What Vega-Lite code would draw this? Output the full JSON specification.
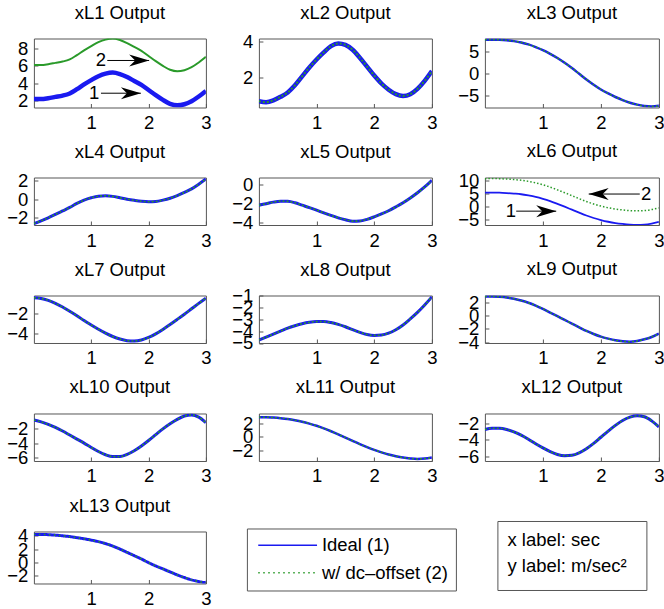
{
"$schema": "https://vega.github.io/schema/vega-lite/v6.json",
"background": "white",
"padding": {"left": 5.9, "top": 2.5, "right": 2, "bottom": 2},
"config": {
  "font": "Liberation Sans",
  "view": {"stroke": "#555555", "strokeWidth": 1},
  "axis": {"domain": false, "grid": false, "labelFontSize": 18.5, "labelFont": "Liberation Sans", "labelColor": "black", "tickColor": "#555555", "tickSize": -4, "labelPadding": 10, "labelFlush": false, "labelOverlap": false, "labelBound": false},
  "title": {"fontSize": 18.5, "fontWeight": "normal", "font": "Liberation Sans", "color": "black", "baseline": "alphabetic", "offset": 16.5, "frame": "group", "anchor": "middle"}
},
"datasets": {
"d": [
{"p":"xL1","t":0,"a":2.15,"b":6.1},{"p":"xL1","t":0.125,"a":2.15,"b":6.1},{"p":"xL1","t":0.25,"a":2.25,"b":6.2},{"p":"xL1","t":0.375,"a":2.4,"b":6.35},{"p":"xL1","t":0.5,"a":2.55,"b":6.5},{"p":"xL1","t":0.625,"a":2.8,"b":6.75},{"p":"xL1","t":0.75,"a":3.3,"b":7.25},{"p":"xL1","t":0.875,"a":3.85,"b":7.8},{"p":"xL1","t":1,"a":4.35,"b":8.3},{"p":"xL1","t":1.125,"a":4.8,"b":8.75},{"p":"xL1","t":1.25,"a":5.1,"b":9.05},{"p":"xL1","t":1.375,"a":5.22,"b":9.17},{"p":"xL1","t":1.5,"a":5.05,"b":9.0},{"p":"xL1","t":1.625,"a":4.7,"b":8.65},{"p":"xL1","t":1.75,"a":4.25,"b":8.2},{"p":"xL1","t":1.875,"a":3.8,"b":7.75},{"p":"xL1","t":2,"a":3.2,"b":7.15},{"p":"xL1","t":2.125,"a":2.6,"b":6.55},{"p":"xL1","t":2.25,"a":2.05,"b":6.0},{"p":"xL1","t":2.375,"a":1.6,"b":5.55},{"p":"xL1","t":2.5,"a":1.42,"b":5.37},{"p":"xL1","t":2.625,"a":1.55,"b":5.5},{"p":"xL1","t":2.75,"a":1.9,"b":5.85},{"p":"xL1","t":2.875,"a":2.45,"b":6.4},{"p":"xL1","t":3,"a":3.1,"b":7.05},
{"p":"xL2","t":0,"a":0.65,"b":0.65},{"p":"xL2","t":0.125,"a":0.6,"b":0.6},{"p":"xL2","t":0.25,"a":0.7,"b":0.7},{"p":"xL2","t":0.375,"a":0.9,"b":0.9},{"p":"xL2","t":0.5,"a":1.15,"b":1.15},{"p":"xL2","t":0.625,"a":1.55,"b":1.55},{"p":"xL2","t":0.75,"a":2.05,"b":2.05},{"p":"xL2","t":0.875,"a":2.55,"b":2.55},{"p":"xL2","t":1,"a":3.0,"b":3.0},{"p":"xL2","t":1.125,"a":3.4,"b":3.4},{"p":"xL2","t":1.25,"a":3.75,"b":3.75},{"p":"xL2","t":1.375,"a":3.9,"b":3.9},{"p":"xL2","t":1.5,"a":3.82,"b":3.82},{"p":"xL2","t":1.625,"a":3.55,"b":3.55},{"p":"xL2","t":1.75,"a":3.1,"b":3.1},{"p":"xL2","t":1.875,"a":2.6,"b":2.6},{"p":"xL2","t":2,"a":2.1,"b":2.1},{"p":"xL2","t":2.125,"a":1.65,"b":1.65},{"p":"xL2","t":2.25,"a":1.3,"b":1.3},{"p":"xL2","t":2.375,"a":1.05,"b":1.05},{"p":"xL2","t":2.5,"a":0.95,"b":0.95},{"p":"xL2","t":2.625,"a":1.05,"b":1.05},{"p":"xL2","t":2.75,"a":1.35,"b":1.35},{"p":"xL2","t":2.875,"a":1.8,"b":1.8},{"p":"xL2","t":3,"a":2.35,"b":2.35},
{"p":"xL3","t":0,"a":7.65,"b":7.65},{"p":"xL3","t":0.125,"a":7.68,"b":7.68},{"p":"xL3","t":0.25,"a":7.65,"b":7.65},{"p":"xL3","t":0.375,"a":7.55,"b":7.55},{"p":"xL3","t":0.5,"a":7.35,"b":7.35},{"p":"xL3","t":0.625,"a":7.05,"b":7.05},{"p":"xL3","t":0.75,"a":6.6,"b":6.6},{"p":"xL3","t":0.875,"a":6.0,"b":6.0},{"p":"xL3","t":1,"a":5.3,"b":5.3},{"p":"xL3","t":1.125,"a":4.45,"b":4.45},{"p":"xL3","t":1.25,"a":3.5,"b":3.5},{"p":"xL3","t":1.375,"a":2.4,"b":2.4},{"p":"xL3","t":1.5,"a":1.2,"b":1.2},{"p":"xL3","t":1.625,"a":-0.1,"b":-0.1},{"p":"xL3","t":1.75,"a":-1.4,"b":-1.4},{"p":"xL3","t":1.875,"a":-2.6,"b":-2.6},{"p":"xL3","t":2,"a":-3.7,"b":-3.7},{"p":"xL3","t":2.125,"a":-4.6,"b":-4.6},{"p":"xL3","t":2.25,"a":-5.4,"b":-5.4},{"p":"xL3","t":2.375,"a":-6.1,"b":-6.1},{"p":"xL3","t":2.5,"a":-6.7,"b":-6.7},{"p":"xL3","t":2.625,"a":-7.15,"b":-7.15},{"p":"xL3","t":2.75,"a":-7.45,"b":-7.45},{"p":"xL3","t":2.875,"a":-7.55,"b":-7.55},{"p":"xL3","t":3,"a":-7.4,"b":-7.4},
{"p":"xL4","t":0,"a":-2.6,"b":-2.6},{"p":"xL4","t":0.125,"a":-2.3,"b":-2.3},{"p":"xL4","t":0.25,"a":-1.98,"b":-1.98},{"p":"xL4","t":0.375,"a":-1.62,"b":-1.62},{"p":"xL4","t":0.5,"a":-1.25,"b":-1.25},{"p":"xL4","t":0.625,"a":-0.88,"b":-0.88},{"p":"xL4","t":0.75,"a":-0.45,"b":-0.45},{"p":"xL4","t":0.875,"a":-0.1,"b":-0.1},{"p":"xL4","t":1,"a":0.15,"b":0.15},{"p":"xL4","t":1.125,"a":0.32,"b":0.32},{"p":"xL4","t":1.25,"a":0.36,"b":0.36},{"p":"xL4","t":1.375,"a":0.3,"b":0.3},{"p":"xL4","t":1.5,"a":0.15,"b":0.15},{"p":"xL4","t":1.625,"a":0.0,"b":0.0},{"p":"xL4","t":1.75,"a":-0.12,"b":-0.12},{"p":"xL4","t":1.875,"a":-0.22,"b":-0.22},{"p":"xL4","t":2,"a":-0.27,"b":-0.27},{"p":"xL4","t":2.125,"a":-0.24,"b":-0.24},{"p":"xL4","t":2.25,"a":-0.1,"b":-0.1},{"p":"xL4","t":2.375,"a":0.1,"b":0.1},{"p":"xL4","t":2.5,"a":0.38,"b":0.38},{"p":"xL4","t":2.625,"a":0.72,"b":0.72},{"p":"xL4","t":2.75,"a":1.1,"b":1.1},{"p":"xL4","t":2.875,"a":1.6,"b":1.6},{"p":"xL4","t":3,"a":2.15,"b":2.15},
{"p":"xL5","t":0,"a":-2.2,"b":-2.2},{"p":"xL5","t":0.125,"a":-2.05,"b":-2.05},{"p":"xL5","t":0.25,"a":-1.88,"b":-1.88},{"p":"xL5","t":0.375,"a":-1.78,"b":-1.78},{"p":"xL5","t":0.5,"a":-1.8,"b":-1.8},{"p":"xL5","t":0.625,"a":-1.95,"b":-1.95},{"p":"xL5","t":0.75,"a":-2.2,"b":-2.2},{"p":"xL5","t":0.875,"a":-2.45,"b":-2.45},{"p":"xL5","t":1,"a":-2.72,"b":-2.72},{"p":"xL5","t":1.125,"a":-3.0,"b":-3.0},{"p":"xL5","t":1.25,"a":-3.27,"b":-3.27},{"p":"xL5","t":1.375,"a":-3.52,"b":-3.52},{"p":"xL5","t":1.5,"a":-3.72,"b":-3.72},{"p":"xL5","t":1.625,"a":-3.87,"b":-3.87},{"p":"xL5","t":1.75,"a":-3.85,"b":-3.85},{"p":"xL5","t":1.875,"a":-3.68,"b":-3.68},{"p":"xL5","t":2,"a":-3.42,"b":-3.42},{"p":"xL5","t":2.125,"a":-3.12,"b":-3.12},{"p":"xL5","t":2.25,"a":-2.78,"b":-2.78},{"p":"xL5","t":2.375,"a":-2.38,"b":-2.38},{"p":"xL5","t":2.5,"a":-1.95,"b":-1.95},{"p":"xL5","t":2.625,"a":-1.45,"b":-1.45},{"p":"xL5","t":2.75,"a":-0.9,"b":-0.9},{"p":"xL5","t":2.875,"a":-0.3,"b":-0.3},{"p":"xL5","t":3,"a":0.4,"b":0.4},
{"p":"xL6","t":0,"a":5.45,"b":10.85},{"p":"xL6","t":0.125,"a":5.5,"b":10.9},{"p":"xL6","t":0.25,"a":5.45,"b":10.85},{"p":"xL6","t":0.375,"a":5.3,"b":10.7},{"p":"xL6","t":0.5,"a":5.1,"b":10.5},{"p":"xL6","t":0.625,"a":4.85,"b":10.25},{"p":"xL6","t":0.75,"a":4.4,"b":9.8},{"p":"xL6","t":0.875,"a":3.85,"b":9.25},{"p":"xL6","t":1,"a":3.1,"b":8.5},{"p":"xL6","t":1.125,"a":2.2,"b":7.6},{"p":"xL6","t":1.25,"a":1.15,"b":6.55},{"p":"xL6","t":1.375,"a":0.05,"b":5.45},{"p":"xL6","t":1.5,"a":-1.1,"b":4.3},{"p":"xL6","t":1.625,"a":-2.25,"b":3.15},{"p":"xL6","t":1.75,"a":-3.35,"b":2.05},{"p":"xL6","t":1.875,"a":-4.3,"b":1.1},{"p":"xL6","t":2,"a":-5.1,"b":0.3},{"p":"xL6","t":2.125,"a":-5.75,"b":-0.35},{"p":"xL6","t":2.25,"a":-6.25,"b":-0.85},{"p":"xL6","t":2.375,"a":-6.6,"b":-1.2},{"p":"xL6","t":2.5,"a":-6.85,"b":-1.45},{"p":"xL6","t":2.625,"a":-6.95,"b":-1.55},{"p":"xL6","t":2.75,"a":-6.85,"b":-1.45},{"p":"xL6","t":2.875,"a":-6.45,"b":-1.05},{"p":"xL6","t":3,"a":-5.8,"b":-0.4},
{"p":"xL7","t":0,"a":-0.38,"b":-0.38},{"p":"xL7","t":0.125,"a":-0.45,"b":-0.45},{"p":"xL7","t":0.25,"a":-0.65,"b":-0.65},{"p":"xL7","t":0.375,"a":-0.95,"b":-0.95},{"p":"xL7","t":0.5,"a":-1.32,"b":-1.32},{"p":"xL7","t":0.625,"a":-1.75,"b":-1.75},{"p":"xL7","t":0.75,"a":-2.2,"b":-2.2},{"p":"xL7","t":0.875,"a":-2.7,"b":-2.7},{"p":"xL7","t":1,"a":-3.15,"b":-3.15},{"p":"xL7","t":1.125,"a":-3.58,"b":-3.58},{"p":"xL7","t":1.25,"a":-3.98,"b":-3.98},{"p":"xL7","t":1.375,"a":-4.32,"b":-4.32},{"p":"xL7","t":1.5,"a":-4.58,"b":-4.58},{"p":"xL7","t":1.625,"a":-4.74,"b":-4.74},{"p":"xL7","t":1.75,"a":-4.78,"b":-4.78},{"p":"xL7","t":1.875,"a":-4.68,"b":-4.68},{"p":"xL7","t":2,"a":-4.42,"b":-4.42},{"p":"xL7","t":2.125,"a":-4.05,"b":-4.05},{"p":"xL7","t":2.25,"a":-3.6,"b":-3.6},{"p":"xL7","t":2.375,"a":-3.1,"b":-3.1},{"p":"xL7","t":2.5,"a":-2.58,"b":-2.58},{"p":"xL7","t":2.625,"a":-2.05,"b":-2.05},{"p":"xL7","t":2.75,"a":-1.5,"b":-1.5},{"p":"xL7","t":2.875,"a":-0.95,"b":-0.95},{"p":"xL7","t":3,"a":-0.42,"b":-0.42},
{"p":"xL8","t":0,"a":-4.75,"b":-4.75},{"p":"xL8","t":0.125,"a":-4.5,"b":-4.5},{"p":"xL8","t":0.25,"a":-4.25,"b":-4.25},{"p":"xL8","t":0.375,"a":-4.0,"b":-4.0},{"p":"xL8","t":0.5,"a":-3.75,"b":-3.75},{"p":"xL8","t":0.625,"a":-3.55,"b":-3.55},{"p":"xL8","t":0.75,"a":-3.38,"b":-3.38},{"p":"xL8","t":0.875,"a":-3.26,"b":-3.26},{"p":"xL8","t":1,"a":-3.2,"b":-3.2},{"p":"xL8","t":1.125,"a":-3.2,"b":-3.2},{"p":"xL8","t":1.25,"a":-3.28,"b":-3.28},{"p":"xL8","t":1.375,"a":-3.43,"b":-3.43},{"p":"xL8","t":1.5,"a":-3.63,"b":-3.63},{"p":"xL8","t":1.625,"a":-3.88,"b":-3.88},{"p":"xL8","t":1.75,"a":-4.1,"b":-4.1},{"p":"xL8","t":1.875,"a":-4.28,"b":-4.28},{"p":"xL8","t":2,"a":-4.36,"b":-4.36},{"p":"xL8","t":2.125,"a":-4.33,"b":-4.33},{"p":"xL8","t":2.25,"a":-4.17,"b":-4.17},{"p":"xL8","t":2.375,"a":-3.88,"b":-3.88},{"p":"xL8","t":2.5,"a":-3.48,"b":-3.48},{"p":"xL8","t":2.625,"a":-2.97,"b":-2.97},{"p":"xL8","t":2.75,"a":-2.42,"b":-2.42},{"p":"xL8","t":2.875,"a":-1.8,"b":-1.8},{"p":"xL8","t":3,"a":-1.12,"b":-1.12},
{"p":"xL9","t":0,"a":2.85,"b":2.85},{"p":"xL9","t":0.125,"a":2.85,"b":2.85},{"p":"xL9","t":0.25,"a":2.8,"b":2.8},{"p":"xL9","t":0.375,"a":2.7,"b":2.7},{"p":"xL9","t":0.5,"a":2.5,"b":2.5},{"p":"xL9","t":0.625,"a":2.25,"b":2.25},{"p":"xL9","t":0.75,"a":1.92,"b":1.92},{"p":"xL9","t":0.875,"a":1.5,"b":1.5},{"p":"xL9","t":1,"a":1.0,"b":1.0},{"p":"xL9","t":1.125,"a":0.45,"b":0.45},{"p":"xL9","t":1.25,"a":-0.1,"b":-0.1},{"p":"xL9","t":1.375,"a":-0.65,"b":-0.65},{"p":"xL9","t":1.5,"a":-1.2,"b":-1.2},{"p":"xL9","t":1.625,"a":-1.75,"b":-1.75},{"p":"xL9","t":1.75,"a":-2.3,"b":-2.3},{"p":"xL9","t":1.875,"a":-2.75,"b":-2.75},{"p":"xL9","t":2,"a":-3.15,"b":-3.15},{"p":"xL9","t":2.125,"a":-3.45,"b":-3.45},{"p":"xL9","t":2.25,"a":-3.7,"b":-3.7},{"p":"xL9","t":2.375,"a":-3.85,"b":-3.85},{"p":"xL9","t":2.5,"a":-3.9,"b":-3.9},{"p":"xL9","t":2.625,"a":-3.8,"b":-3.8},{"p":"xL9","t":2.75,"a":-3.55,"b":-3.55},{"p":"xL9","t":2.875,"a":-3.2,"b":-3.2},{"p":"xL9","t":3,"a":-2.7,"b":-2.7},
{"p":"xL10","t":0,"a":-0.85,"b":-0.85},{"p":"xL10","t":0.125,"a":-1.1,"b":-1.1},{"p":"xL10","t":0.25,"a":-1.45,"b":-1.45},{"p":"xL10","t":0.375,"a":-1.85,"b":-1.85},{"p":"xL10","t":0.5,"a":-2.35,"b":-2.35},{"p":"xL10","t":0.625,"a":-2.9,"b":-2.9},{"p":"xL10","t":0.75,"a":-3.45,"b":-3.45},{"p":"xL10","t":0.875,"a":-4.0,"b":-4.0},{"p":"xL10","t":1,"a":-4.6,"b":-4.6},{"p":"xL10","t":1.125,"a":-5.15,"b":-5.15},{"p":"xL10","t":1.25,"a":-5.6,"b":-5.6},{"p":"xL10","t":1.375,"a":-5.85,"b":-5.85},{"p":"xL10","t":1.5,"a":-5.85,"b":-5.85},{"p":"xL10","t":1.625,"a":-5.55,"b":-5.55},{"p":"xL10","t":1.75,"a":-5.05,"b":-5.05},{"p":"xL10","t":1.875,"a":-4.4,"b":-4.4},{"p":"xL10","t":2,"a":-3.65,"b":-3.65},{"p":"xL10","t":2.125,"a":-2.85,"b":-2.85},{"p":"xL10","t":2.25,"a":-2.05,"b":-2.05},{"p":"xL10","t":2.375,"a":-1.35,"b":-1.35},{"p":"xL10","t":2.5,"a":-0.75,"b":-0.75},{"p":"xL10","t":2.625,"a":-0.3,"b":-0.3},{"p":"xL10","t":2.75,"a":-0.15,"b":-0.15},{"p":"xL10","t":2.875,"a":-0.45,"b":-0.45},{"p":"xL10","t":3,"a":-1.2,"b":-1.2},
{"p":"xL11","t":0,"a":2.85,"b":2.85},{"p":"xL11","t":0.125,"a":2.85,"b":2.85},{"p":"xL11","t":0.25,"a":2.8,"b":2.8},{"p":"xL11","t":0.375,"a":2.72,"b":2.72},{"p":"xL11","t":0.5,"a":2.6,"b":2.6},{"p":"xL11","t":0.625,"a":2.42,"b":2.42},{"p":"xL11","t":0.75,"a":2.2,"b":2.2},{"p":"xL11","t":0.875,"a":1.92,"b":1.92},{"p":"xL11","t":1,"a":1.6,"b":1.6},{"p":"xL11","t":1.125,"a":1.22,"b":1.22},{"p":"xL11","t":1.25,"a":0.8,"b":0.8},{"p":"xL11","t":1.375,"a":0.35,"b":0.35},{"p":"xL11","t":1.5,"a":-0.12,"b":-0.12},{"p":"xL11","t":1.625,"a":-0.6,"b":-0.6},{"p":"xL11","t":1.75,"a":-1.08,"b":-1.08},{"p":"xL11","t":1.875,"a":-1.52,"b":-1.52},{"p":"xL11","t":2,"a":-1.92,"b":-1.92},{"p":"xL11","t":2.125,"a":-2.28,"b":-2.28},{"p":"xL11","t":2.25,"a":-2.6,"b":-2.6},{"p":"xL11","t":2.375,"a":-2.85,"b":-2.85},{"p":"xL11","t":2.5,"a":-3.05,"b":-3.05},{"p":"xL11","t":2.625,"a":-3.18,"b":-3.18},{"p":"xL11","t":2.75,"a":-3.25,"b":-3.25},{"p":"xL11","t":2.875,"a":-3.2,"b":-3.2},{"p":"xL11","t":3,"a":-3.05,"b":-3.05},
{"p":"xL12","t":0,"a":-2.75,"b":-2.75},{"p":"xL12","t":0.125,"a":-2.6,"b":-2.6},{"p":"xL12","t":0.25,"a":-2.6,"b":-2.6},{"p":"xL12","t":0.375,"a":-2.75,"b":-2.75},{"p":"xL12","t":0.5,"a":-3.05,"b":-3.05},{"p":"xL12","t":0.625,"a":-3.45,"b":-3.45},{"p":"xL12","t":0.75,"a":-3.95,"b":-3.95},{"p":"xL12","t":0.875,"a":-4.5,"b":-4.5},{"p":"xL12","t":1,"a":-5.0,"b":-5.0},{"p":"xL12","t":1.125,"a":-5.45,"b":-5.45},{"p":"xL12","t":1.25,"a":-5.8,"b":-5.8},{"p":"xL12","t":1.375,"a":-5.95,"b":-5.95},{"p":"xL12","t":1.5,"a":-5.9,"b":-5.9},{"p":"xL12","t":1.625,"a":-5.6,"b":-5.6},{"p":"xL12","t":1.75,"a":-5.1,"b":-5.1},{"p":"xL12","t":1.875,"a":-4.45,"b":-4.45},{"p":"xL12","t":2,"a":-3.7,"b":-3.7},{"p":"xL12","t":2.125,"a":-2.95,"b":-2.95},{"p":"xL12","t":2.25,"a":-2.25,"b":-2.25},{"p":"xL12","t":2.375,"a":-1.65,"b":-1.65},{"p":"xL12","t":2.5,"a":-1.25,"b":-1.25},{"p":"xL12","t":2.625,"a":-1.08,"b":-1.08},{"p":"xL12","t":2.75,"a":-1.2,"b":-1.2},{"p":"xL12","t":2.875,"a":-1.7,"b":-1.7},{"p":"xL12","t":3,"a":-2.45,"b":-2.45},
{"p":"xL13","t":0,"a":4.2,"b":4.2},{"p":"xL13","t":0.125,"a":4.2,"b":4.2},{"p":"xL13","t":0.25,"a":4.17,"b":4.17},{"p":"xL13","t":0.375,"a":4.1,"b":4.1},{"p":"xL13","t":0.5,"a":4.0,"b":4.0},{"p":"xL13","t":0.625,"a":3.88,"b":3.88},{"p":"xL13","t":0.75,"a":3.72,"b":3.72},{"p":"xL13","t":0.875,"a":3.55,"b":3.55},{"p":"xL13","t":1,"a":3.35,"b":3.35},{"p":"xL13","t":1.125,"a":3.12,"b":3.12},{"p":"xL13","t":1.25,"a":2.82,"b":2.82},{"p":"xL13","t":1.375,"a":2.45,"b":2.45},{"p":"xL13","t":1.5,"a":2.0,"b":2.0},{"p":"xL13","t":1.625,"a":1.5,"b":1.5},{"p":"xL13","t":1.75,"a":1.0,"b":1.0},{"p":"xL13","t":1.875,"a":0.5,"b":0.5},{"p":"xL13","t":2,"a":-0.05,"b":-0.05},{"p":"xL13","t":2.125,"a":-0.55,"b":-0.55},{"p":"xL13","t":2.25,"a":-1.0,"b":-1.0},{"p":"xL13","t":2.375,"a":-1.45,"b":-1.45},{"p":"xL13","t":2.5,"a":-1.9,"b":-1.9},{"p":"xL13","t":2.625,"a":-2.3,"b":-2.3},{"p":"xL13","t":2.75,"a":-2.65,"b":-2.65},{"p":"xL13","t":2.875,"a":-2.9,"b":-2.9},{"p":"xL13","t":3,"a":-3.1,"b":-3.1}
],
"ann": [
{"p":"xL1","lab":"1","tl":1.05,"ts":1.17,"te":1.866,"av":2.83,"dir":"r"},
{"p":"xL1","lab":"2","tl":1.17,"ts":1.28,"te":2.01,"av":6.63,"dir":"r"},
{"p":"xL6","lab":"1","tl":0.45,"ts":0.54,"te":1.23,"av":-1.66,"dir":"r"},
{"p":"xL6","lab":"2","tl":2.78,"ts":2.67,"te":1.79,"av":4.93,"dir":"l"}
],
"box": [{"txt":"x label: sec"},{"txt":"y label: m/sec²"}]
},
"spacing": 19,
"hconcat": [
{"vconcat": [
 {"title":{"text":"xL1 Output","offset":16.5},"width":172,"height":69,
  "encoding":{"x":{"field":"t","type":"quantitative","title":null,"scale":{"domain":[0,3],"nice":false},"axis":{"values":[1,2,3]}},
   "y":{"field":"v","type":"quantitative","title":null,"scale":{"domain":[1.17,9.18],"nice":false,"zero":false},"axis":{"values":[2,4,6,8]}}},
  "layer":[
   {"data":{"name":"d"},"transform":[{"filter":"datum.p=='xL1'"},{"fold":["a","b"],"as":["s","v"]},{"filter":"datum.s=='a'"}],"mark":{"type":"line","color":"#1a1af0","strokeWidth":4.5,"clip":true,"interpolate":"monotone"}},
   {"data":{"name":"d"},"transform":[{"filter":"datum.p=='xL1'"},{"fold":["a","b"],"as":["s","v"]},{"filter":"datum.s=='b'"}],"mark":{"type":"line","color":"#2a9a2a","strokeWidth":2,"clip":true,"interpolate":"monotone"}},
   {"data":{"name":"ann"},"transform":[{"filter":"datum.p=='xL1'"}],"mark":{"type":"rule","color":"black","strokeWidth":1},"encoding":{"x":{"field":"ts","type":"quantitative"},"x2":{"field":"te"},"y":{"field":"av","type":"quantitative"}}},
   {"data":{"name":"ann"},"transform":[{"filter":"datum.p=='xL1' && datum.dir=='r'"}],"mark":{"type":"point","shape":"M0,0L-2,-0.6L-1.4,0L-2,0.6Z","size":400,"filled":true,"color":"black","opacity":1},"encoding":{"x":{"field":"te","type":"quantitative"},"y":{"field":"av","type":"quantitative"}}},
   {"data":{"name":"ann"},"transform":[{"filter":"datum.p=='xL1'"}],"mark":{"type":"text","fontSize":18.5,"color":"black","baseline":"middle","align":"center"},"encoding":{"x":{"field":"tl","type":"quantitative"},"y":{"field":"av","type":"quantitative"},"text":{"field":"lab"}}}
  ]},
 {"title":{"text":"xL4 Output","offset":10.4},"width":172,"height":47.5,"data":{"name":"d"},
  "transform":[{"filter":"datum.p=='xL4'"},{"fold":["a","b"],"as":["s","v"]}],
  "encoding":{"x":{"field":"t","type":"quantitative","title":null,"scale":{"domain":[0,3],"nice":false},"axis":{"values":[1,2,3]}},
   "y":{"field":"v","type":"quantitative","title":null,"scale":{"domain":[-2.75,2.31],"nice":false,"zero":false},"axis":{"values":[-2,0,2]}}},
  "layer":[{"transform":[{"filter":"datum.s=='a'"}],"mark":{"type":"line","color":"#1a1af0","strokeWidth":3,"clip":true,"interpolate":"monotone"}},
   {"transform":[{"filter":"datum.s=='b'"}],"mark":{"type":"line","color":"#2a9a2a","strokeWidth":1.6,"strokeDash":[2,2],"clip":true,"interpolate":"monotone"}}]},
 {"title":{"text":"xL7 Output","offset":16.5},"width":172,"height":47.5,"data":{"name":"d"},
  "transform":[{"filter":"datum.p=='xL7'"},{"fold":["a","b"],"as":["s","v"]}],
  "encoding":{"x":{"field":"t","type":"quantitative","title":null,"scale":{"domain":[0,3],"nice":false},"axis":{"values":[1,2,3]}},
   "y":{"field":"v","type":"quantitative","title":null,"scale":{"domain":[-4.98,-0.15],"nice":false,"zero":false},"axis":{"values":[-4,-2]}}},
  "layer":[{"transform":[{"filter":"datum.s=='a'"}],"mark":{"type":"line","color":"#1a1af0","strokeWidth":3,"clip":true,"interpolate":"monotone"}},
   {"transform":[{"filter":"datum.s=='b'"}],"mark":{"type":"line","color":"#2a9a2a","strokeWidth":1.6,"strokeDash":[2,2],"clip":true,"interpolate":"monotone"}}]},
 {"title":{"text":"xL10 Output","offset":16.5},"width":172,"height":47.5,"data":{"name":"d"},
  "transform":[{"filter":"datum.p=='xL10'"},{"fold":["a","b"],"as":["s","v"]}],
  "encoding":{"x":{"field":"t","type":"quantitative","title":null,"scale":{"domain":[0,3],"nice":false},"axis":{"values":[1,2,3]}},
   "y":{"field":"v","type":"quantitative","title":null,"scale":{"domain":[-6.45,0.05],"nice":false,"zero":false},"axis":{"values":[-6,-4,-2]}}},
  "layer":[{"transform":[{"filter":"datum.s=='a'"}],"mark":{"type":"line","color":"#1a1af0","strokeWidth":3,"clip":true,"interpolate":"monotone"}},
   {"transform":[{"filter":"datum.s=='b'"}],"mark":{"type":"line","color":"#2a9a2a","strokeWidth":1.6,"strokeDash":[2,2],"clip":true,"interpolate":"monotone"}}]},
 {"title":{"text":"xL13 Output","offset":11.8},"width":172,"height":52,"data":{"name":"d"},
  "transform":[{"filter":"datum.p=='xL13'"},{"fold":["a","b"],"as":["s","v"]}],
  "encoding":{"x":{"field":"t","type":"quantitative","title":null,"scale":{"domain":[0,3],"nice":false},"axis":{"values":[1,2,3]}},
   "y":{"field":"v","type":"quantitative","title":null,"scale":{"domain":[-3.2,4.65],"nice":false,"zero":false},"axis":{"values":[-2,0,2,4]}},
   "color":{"field":"s","type":"nominal","scale":{"domain":["a","b"],"range":["#1a1af0","#2a9a2a"]},
     "legend":{"orient":"none","legendX":213,"legendY":490,"title":null,"labelExpr":"datum.value == 'a' ? 'Ideal (1)' : 'w/ dc–offset (2)'","labelFont":"Liberation Sans","labelFontSize":18.5,"labelColor":"black","symbolType":"M-4.9,0H4.9","symbolSize":144,"symbolStrokeWidth":1.3,"symbolOffset":24,"labelOffset":25,"padding":7.5,"rowPadding":8.5,"strokeColor":"#555555","fillColor":"white"}},
   "strokeDash":{"field":"s","type":"nominal","scale":{"domain":["a","b"],"range":[[1,0],[1.5,3.5]]},
     "legend":{"orient":"none","legendX":213,"legendY":490,"title":null,"labelExpr":"datum.value == 'a' ? 'Ideal (1)' : 'w/ dc–offset (2)'","labelFont":"Liberation Sans","labelFontSize":18.5,"labelColor":"black","symbolType":"M-4.9,0H4.9","symbolSize":144,"symbolStrokeWidth":1.3,"symbolOffset":24,"labelOffset":25,"padding":7.5,"rowPadding":8.5,"strokeColor":"#555555","fillColor":"white"}}},
  "layer":[{"transform":[{"filter":"datum.s=='a'"}],"mark":{"type":"line","strokeWidth":3,"clip":true,"interpolate":"monotone"}},
   {"transform":[{"filter":"datum.s=='b'"}],"mark":{"type":"line","strokeWidth":1.6,"clip":true,"interpolate":"monotone"}}]}
 ], "spacing": 70, "bounds": "flush"},
{"vconcat": [
 {"title":{"text":"xL2 Output","offset":10.7},"width":173,"height":69,"data":{"name":"d"},
  "transform":[{"filter":"datum.p=='xL2'"},{"fold":["a","b"],"as":["s","v"]}],
  "encoding":{"x":{"field":"t","type":"quantitative","title":null,"scale":{"domain":[0,3],"nice":false},"axis":{"values":[1,2,3]}},
   "y":{"field":"v","type":"quantitative","title":null,"scale":{"domain":[0.3,4.18],"nice":false,"zero":false},"axis":{"values":[2,4]}}},
  "layer":[{"transform":[{"filter":"datum.s=='a'"}],"mark":{"type":"line","color":"#1a1af0","strokeWidth":4.5,"clip":true,"interpolate":"monotone"}},
   {"transform":[{"filter":"datum.s=='b'"}],"mark":{"type":"line","color":"#2a9a2a","strokeWidth":2,"strokeDash":[2,2],"clip":true,"interpolate":"monotone"}}]},
 {"title":{"text":"xL5 Output","offset":14.1},"width":173,"height":47.5,"data":{"name":"d"},
  "transform":[{"filter":"datum.p=='xL5'"},{"fold":["a","b"],"as":["s","v"]}],
  "encoding":{"x":{"field":"t","type":"quantitative","title":null,"scale":{"domain":[0,3],"nice":false},"axis":{"values":[1,2,3]}},
   "y":{"field":"v","type":"quantitative","title":null,"scale":{"domain":[-4.27,0.69],"nice":false,"zero":false},"axis":{"values":[-4,-2,0]}}},
  "layer":[{"transform":[{"filter":"datum.s=='a'"}],"mark":{"type":"line","color":"#1a1af0","strokeWidth":3,"clip":true,"interpolate":"monotone"}},
   {"transform":[{"filter":"datum.s=='b'"}],"mark":{"type":"line","color":"#2a9a2a","strokeWidth":1.6,"strokeDash":[2,2],"clip":true,"interpolate":"monotone"}}]},
 {"title":{"text":"xL8 Output","offset":7.5},"width":173,"height":47.5,"data":{"name":"d"},
  "transform":[{"filter":"datum.p=='xL8'"},{"fold":["a","b"],"as":["s","v"]}],
  "encoding":{"x":{"field":"t","type":"quantitative","title":null,"scale":{"domain":[0,3],"nice":false},"axis":{"values":[1,2,3]}},
   "y":{"field":"v","type":"quantitative","title":null,"scale":{"domain":[-5,-1],"nice":false,"zero":false},"axis":{"values":[-5,-4,-3,-2,-1]}}},
  "layer":[{"transform":[{"filter":"datum.s=='a'"}],"mark":{"type":"line","color":"#1a1af0","strokeWidth":3,"clip":true,"interpolate":"monotone"}},
   {"transform":[{"filter":"datum.s=='b'"}],"mark":{"type":"line","color":"#2a9a2a","strokeWidth":1.6,"strokeDash":[2,2],"clip":true,"interpolate":"monotone"}}]},
 {"title":{"text":"xL11 Output","offset":16.5},"width":173,"height":47.5,"data":{"name":"d"},
  "transform":[{"filter":"datum.p=='xL11'"},{"fold":["a","b"],"as":["s","v"]}],
  "encoding":{"x":{"field":"t","type":"quantitative","title":null,"scale":{"domain":[0,3],"nice":false},"axis":{"values":[1,2,3]}},
   "y":{"field":"v","type":"quantitative","title":null,"scale":{"domain":[-3.55,3.4],"nice":false,"zero":false},"axis":{"values":[-2,0,2]}}},
  "layer":[{"transform":[{"filter":"datum.s=='a'"}],"mark":{"type":"line","color":"#1a1af0","strokeWidth":2.5,"clip":true,"interpolate":"monotone"}},
   {"transform":[{"filter":"datum.s=='b'"}],"mark":{"type":"line","color":"#2a9a2a","strokeWidth":1.5,"strokeDash":[2,2],"clip":true,"interpolate":"monotone"}}]}
 ], "spacing": 70, "bounds": "flush"},
{"vconcat": [
 {"title":{"text":"xL3 Output","offset":16.5},"width":174,"height":69,"data":{"name":"d"},
  "transform":[{"filter":"datum.p=='xL3'"},{"fold":["a","b"],"as":["s","v"]}],
  "encoding":{"x":{"field":"t","type":"quantitative","title":null,"scale":{"domain":[0,3],"nice":false},"axis":{"values":[1,2,3]}},
   "y":{"field":"v","type":"quantitative","title":null,"scale":{"domain":[-7.8,7.95],"nice":false,"zero":false},"axis":{"values":[-5,0,5]}}},
  "layer":[{"transform":[{"filter":"datum.s=='a'"}],"mark":{"type":"line","color":"#1a1af0","strokeWidth":2.5,"clip":true,"interpolate":"monotone"}},
   {"transform":[{"filter":"datum.s=='b'"}],"mark":{"type":"line","color":"#2a9a2a","strokeWidth":1.5,"strokeDash":[2,2],"clip":true,"interpolate":"monotone"}}]},
 {"title":{"text":"xL6 Output","offset":10.9},"width":174,"height":47.5,
  "encoding":{"x":{"field":"t","type":"quantitative","title":null,"scale":{"domain":[0,3],"nice":false},"axis":{"values":[1,2,3]}},
   "y":{"field":"v","type":"quantitative","title":null,"scale":{"domain":[-7.0,11.3],"nice":false,"zero":false},"axis":{"values":[-5,0,5,10]}}},
  "layer":[
   {"data":{"name":"d"},"transform":[{"filter":"datum.p=='xL6'"},{"fold":["a","b"],"as":["s","v"]},{"filter":"datum.s=='a'"}],"mark":{"type":"line","color":"#1a1af0","strokeWidth":1.8,"clip":true,"interpolate":"monotone"}},
   {"data":{"name":"d"},"transform":[{"filter":"datum.p=='xL6'"},{"fold":["a","b"],"as":["s","v"]},{"filter":"datum.s=='b'"}],"mark":{"type":"line","color":"#2a9a2a","strokeWidth":1.5,"strokeDash":[1.5,2],"clip":true,"interpolate":"monotone"}},
   {"data":{"name":"ann"},"transform":[{"filter":"datum.p=='xL6'"}],"mark":{"type":"rule","color":"black","strokeWidth":1},"encoding":{"x":{"field":"ts","type":"quantitative"},"x2":{"field":"te"},"y":{"field":"av","type":"quantitative"}}},
   {"data":{"name":"ann"},"transform":[{"filter":"datum.p=='xL6' && datum.dir=='r'"}],"mark":{"type":"point","shape":"M0,0L-2,-0.6L-1.4,0L-2,0.6Z","size":400,"filled":true,"color":"black","opacity":1},"encoding":{"x":{"field":"te","type":"quantitative"},"y":{"field":"av","type":"quantitative"}}},
   {"data":{"name":"ann"},"transform":[{"filter":"datum.p=='xL6' && datum.dir=='l'"}],"mark":{"type":"point","shape":"M0,0L2,-0.6L1.4,0L2,0.6Z","size":400,"filled":true,"color":"black","opacity":1},"encoding":{"x":{"field":"te","type":"quantitative"},"y":{"field":"av","type":"quantitative"}}},
   {"data":{"name":"ann"},"transform":[{"filter":"datum.p=='xL6'"}],"mark":{"type":"text","fontSize":18.5,"color":"black","baseline":"middle","align":"center"},"encoding":{"x":{"field":"tl","type":"quantitative"},"y":{"field":"av","type":"quantitative"},"text":{"field":"lab"}}}
  ]},
 {"title":{"text":"xL9 Output","offset":14.2},"width":174,"height":47.5,"data":{"name":"d"},
  "transform":[{"filter":"datum.p=='xL9'"},{"fold":["a","b"],"as":["s","v"]}],
  "encoding":{"x":{"field":"t","type":"quantitative","title":null,"scale":{"domain":[0,3],"nice":false},"axis":{"values":[1,2,3]}},
   "y":{"field":"v","type":"quantitative","title":null,"scale":{"domain":[-4.1,3.0],"nice":false,"zero":false},"axis":{"values":[-4,-2,0,2]}}},
  "layer":[{"transform":[{"filter":"datum.s=='a'"}],"mark":{"type":"line","color":"#1a1af0","strokeWidth":2.5,"clip":true,"interpolate":"monotone"}},
   {"transform":[{"filter":"datum.s=='b'"}],"mark":{"type":"line","color":"#2a9a2a","strokeWidth":1.5,"strokeDash":[2,2],"clip":true,"interpolate":"monotone"}}]},
 {"vconcat": [
  {"title":{"text":"xL12 Output","offset":16.5},"width":174,"height":47.5,"data":{"name":"d"},
   "transform":[{"filter":"datum.p=='xL12'"},{"fold":["a","b"],"as":["s","v"]}],
   "encoding":{"x":{"field":"t","type":"quantitative","title":null,"scale":{"domain":[0,3],"nice":false},"axis":{"values":[1,2,3]}},
    "y":{"field":"v","type":"quantitative","title":null,"scale":{"domain":[-6.6,-0.8],"nice":false,"zero":false},"axis":{"values":[-6,-4,-2]}}},
   "layer":[{"transform":[{"filter":"datum.s=='a'"}],"mark":{"type":"line","color":"#1a1af0","strokeWidth":3,"clip":true,"interpolate":"monotone"}},
    {"transform":[{"filter":"datum.s=='b'"}],"mark":{"type":"line","color":"#2a9a2a","strokeWidth":1.6,"strokeDash":[2,2],"clip":true,"interpolate":"monotone"}}]},
  {"width":149,"height":69,"data":{"name":"box"},
   "mark":{"type":"text","align":"left","baseline":"alphabetic","fontSize":18.5,"font":"Liberation Sans","color":"black"},
   "encoding":{"x":{"datum":0,"type":"quantitative","scale":{"domain":[-0.072,1]},"axis":null},
    "y":{"field":"txt","type":"nominal","scale":{"type":"point","domain":["x label: sec","y label: m/sec²"],"range":[25,51],"padding":0},"axis":null},
    "text":{"field":"txt"}}}
 ], "spacing": 59.5, "center": true, "bounds": "flush"}
 ], "spacing": 70, "bounds": "flush"}
]
}
